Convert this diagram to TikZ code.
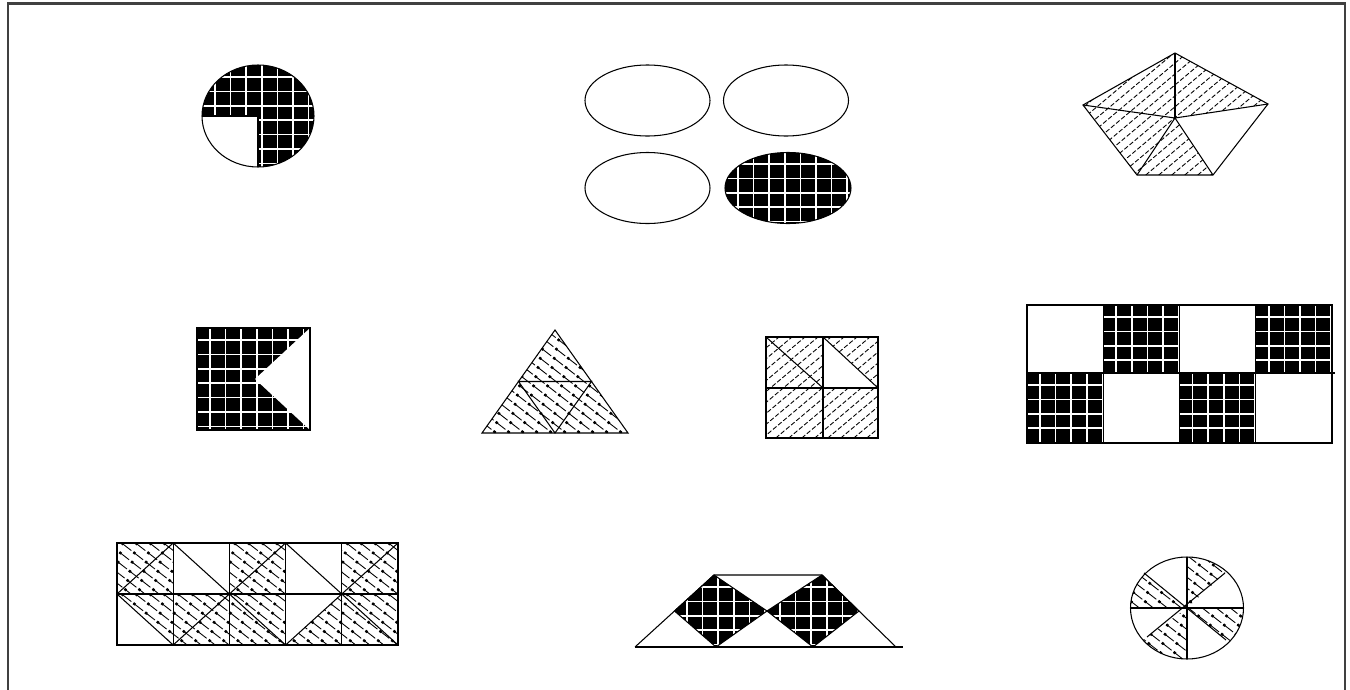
\documentclass[tikz,border=0pt]{standalone}
\usepackage{tikz}

\tikzset{
  outline/.style={line width=0.6pt},
  gridline/.style={white, line width=0.9pt},
  nedash/.style={line width=0.5pt, dash pattern=on 2.6pt off 1.2pt},
  nwline/.style={line width=0.5pt, dash pattern=on 7pt off 1.5pt},
  nwdot/.style={line width=1.4pt, dash pattern=on 1.4pt off 7.1pt},
  frameline/.style={line width=1.2pt, black!75},
}

% black patch with a white grid: clip path, xmin, ymin, xmax, ymax
\newcommand{\gridpatch}[5]{%
  \begin{scope}
    \clip #1;
    \fill[black] (#2,#3) rectangle (#4,#5);
    \foreach \i in {0,...,24} {
      \draw[gridline] ({(#2)+13+15.6*\i},#3) -- ({(#2)+13+15.6*\i},#5);
      \draw[gridline] (#2,{(#3)+12+14.4*\i}) -- (#4,{(#3)+12+14.4*\i});
    }
  \end{scope}}

% dashed lines rising to the right
\newcommand{\nepatch}[5]{%
  \begin{scope}
    \clip #1;
    \foreach \i in {0,...,45}
      \draw[nedash] ({(#2)-((#5)-(#3))/0.84+13*\i},#5) -- ++({((#5)-(#3))/0.84},{-((#5)-(#3))});
  \end{scope}}

% dotted lines falling to the right
\newcommand{\nwpatch}[5]{%
  \begin{scope}
    \clip #1;
    \foreach \i in {0,...,45} {
      \draw[nwline] ({(#2)-((#5)-(#3))/0.78+14*\i},#3) -- ++({((#5)-(#3))/0.78},{(#5)-(#3)});
      \draw[nwdot] ({(#2)-((#5)-(#3))/0.78+14*\i},#3) -- ++({((#5)-(#3))/0.78},{(#5)-(#3)});
    }
  \end{scope}}

\begin{document}
\begin{tikzpicture}[x=0.02cm, y=-0.02cm]
\useasboundingbox (0,0) rectangle (1350,690);

% frame
\draw[frameline] (8,700) -- (8,3.5) -- (1345,3.5) -- (1345,700);

% circle with three quarters
\gridpatch{(258,116) ellipse [x radius=56, y radius=51]}{202}{65}{314}{167}
\begin{scope}
  \clip (258,116) ellipse [x radius=56, y radius=51];
  \fill[white] (200,116) rectangle (258,170);
\end{scope}
\draw[outline] (258,116) ellipse [x radius=56, y radius=51];
\draw[outline] (202,116) -- (258,116) -- (258,167);

% four ovals
\draw[outline] (647.5,100.5) ellipse [x radius=62.5, y radius=35.5];
\draw[outline] (786,100.5) ellipse [x radius=62.5, y radius=35.5];
\draw[outline] (647.5,188) ellipse [x radius=62.5, y radius=35.5];
\gridpatch{(788,188) ellipse [x radius=63, y radius=35.5]}{725}{152}{851}{224}
\draw[outline] (788,188) ellipse [x radius=63, y radius=35.5];

% pentagon
\coordinate (pA) at (1175,53);
\coordinate (pB) at (1268,104);
\coordinate (pC) at (1213,175);
\coordinate (pD) at (1137,175);
\coordinate (pE) at (1083,105);
\coordinate (pO) at (1175,118);
\nepatch{(pA) -- (pB) -- (pC) -- (pD) -- (pE) -- cycle}{1083}{53}{1268}{175}
\fill[white] (pO) -- (pB) -- (pC) -- cycle;
\draw[outline] (pA) -- (pB) -- (pC) -- (pD) -- (pE) -- cycle;
\foreach \p in {pA,pB,pC,pD,pE} \draw[outline] (pO) -- (\p);

% square with a notch
\gridpatch{(197,328) rectangle (310,430)}{197}{328}{310}{430}
\fill[white] (310,328) -- (255,379) -- (310,430) -- cycle;
\draw[outline] (197,328) rectangle (310,430);

% triangle in four parts
\coordinate (tA) at (555,330);
\coordinate (tL) at (482,433);
\coordinate (tR) at (628,433);
\coordinate (tML) at (518.5,381.5);
\coordinate (tMR) at (591.5,381.5);
\coordinate (tMB) at (555,433);
\nwpatch{(tA) -- (tL) -- (tR) -- cycle}{482}{330}{628}{433}
\draw[outline] (tA) -- (tL) -- (tR) -- cycle;
\draw[outline] (tML) -- (tMR) -- (tMB) -- cycle;

% square in four parts
\nepatch{(766,337) rectangle (878,438)}{766}{337}{878}{438}
\fill[white] (823,337) -- (823,388) -- (878,388) -- cycle;
\draw[outline] (766,337) rectangle (878,438);
\draw[outline] (823,337) -- (823,438);
\draw[outline] (766,388) -- (878,388);
\draw[outline] (766,337) -- (823,388);
\draw[outline] (823,337) -- (878,388);

% checkerboard
\foreach \bx/\by/\ex/\ey in {1103.25/305/1179.5/373, 1255.75/305/1332/373,
                             1027/373/1103.25/443, 1179.5/373/1255.75/443}
  \gridpatch{(\bx,\by) rectangle (\ex,\ey)}{\bx}{\by}{\ex}{\ey}
\draw[outline] (1027,305) rectangle (1332,443);
\foreach \cx in {1103.25,1179.5,1255.75} \draw[outline] (\cx,305) -- (\cx,443);
\draw[outline] (1027,373) -- (1335,373);

% strip of ten cells
\foreach \cx in {117,229.4,341.8} {
  \nwpatch{(\cx,543) rectangle ({\cx+56.2},594)}{\cx}{543}{\cx+56.2}{594}
  \draw[outline] (\cx,594) -- ({\cx+56.2},543);
}
\foreach \cx in {173.2,285.6}
  \draw[outline] (\cx,543) -- ({\cx+56.2},594);
\nwpatch{(117,594) -- (173.2,594) -- (173.2,645) -- cycle}{117}{594}{173.2}{645}
\draw[outline] (117,594) -- (173.2,645);
\nwpatch{(173.2,594) rectangle (229.4,645)}{173.2}{594}{229.4}{645}
\draw[outline] (173.2,645) -- (229.4,594);
\foreach \cx in {229.4,341.8} {
  \nwpatch{(\cx,594) rectangle ({\cx+56.2},645)}{\cx}{594}{\cx+56.2}{645}
  \draw[outline] (\cx,594) -- ({\cx+56.2},645);
}
\nwpatch{(285.6,645) -- (341.8,645) -- (341.8,594) -- cycle}{285.6}{594}{341.8}{645}
\draw[outline] (285.6,645) -- (341.8,594);
\draw[outline] (117,543) rectangle (398,645);
\foreach \cx in {173.2,229.4,285.6,341.8} \draw[outline] (\cx,543) -- (\cx,645);
\draw[outline] (117,594) -- (398,594);

% trapezoid with two diamonds
\coordinate (zBL) at (635,647);
\coordinate (zTL) at (714,575);
\coordinate (zTR) at (822,575);
\coordinate (zBR) at (896,647);
\coordinate (zBE) at (903,647);
\coordinate (dL1) at (674.5,611);
\coordinate (dB1) at (716,647);
\coordinate (dM) at (767,611);
\coordinate (dB2) at (813,647);
\coordinate (dR2) at (859,611);
\gridpatch{(zTL) -- (dL1) -- (dB1) -- (dM) -- cycle}{674}{575}{767}{647}
\gridpatch{(zTR) -- (dM) -- (dB2) -- (dR2) -- cycle}{767}{575}{859}{647}
\draw[outline] (zBL) -- (zBE);
\draw[outline] (zBL) -- (zTL) -- (zTR) -- (zBR);
\draw[outline] (zTL) -- (dL1) -- (dB1) -- (dM) -- cycle;
\draw[outline] (zTR) -- (dM) -- (dB2) -- (dR2) -- cycle;

% circle in eight sectors
\coordinate (eO) at (1187,608);
\begin{scope}
  \clip (eO) ellipse [x radius=56.5, y radius=51];
  \nwpatch{(eO) -- (1187,500) -- (1301,503) -- cycle}{1187}{555}{1245}{610}
  \nwpatch{(eO) -- (1055,503) -- (1050,608) -- cycle}{1128}{555}{1190}{610}
  \nwpatch{(eO) -- (1320,608) -- (1304,704) -- cycle}{1185}{606}{1245}{660}
  \nwpatch{(eO) -- (1067,695) -- (1187,720) -- cycle}{1128}{606}{1190}{660}
\end{scope}
\draw[outline] (eO) ellipse [x radius=56.5, y radius=51];
\draw[outline] (1187,557) -- (1187,659);
\draw[outline] (1130.5,608) -- (1243.5,608);
\draw[outline] (1144,573) -- (1226,640);
\draw[outline] (1225,573) -- (1147,637);
\end{tikzpicture}
\end{document}
